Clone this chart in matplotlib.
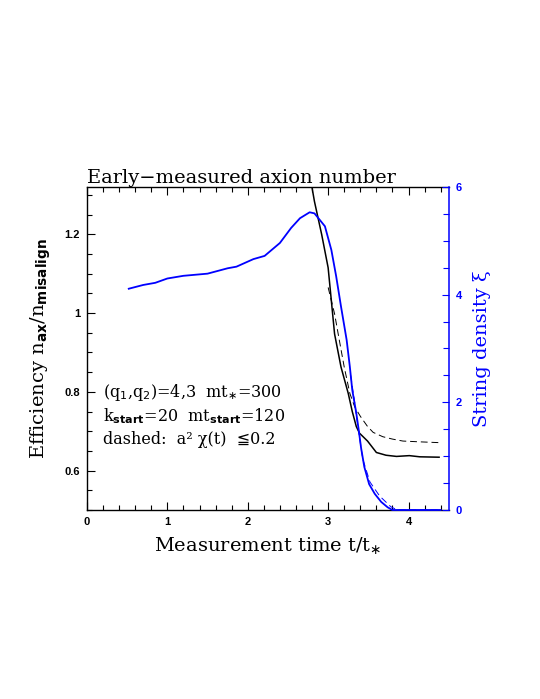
import matplotlib
matplotlib.use("Agg")
import matplotlib.pyplot as plt
from matplotlib.ticker import MultipleLocator, FixedLocator

BLUE = "#0000ff"
INK = "black"
SERIF = ["DejaVu Serif", "DejaVu Sans", "Noto Sans CJK JP"]
TICKFONT = dict(family="Liberation Sans", weight="bold", size=8)

# --- efficiency n_ax/n_misalign (left axis) ---
t_eff = [2.74, 2.80, 2.83, 2.92, 3.00, 3.04, 3.08, 3.16, 3.25, 3.30, 3.35,
         3.39, 3.49, 3.60, 3.72, 3.85, 4.01, 4.14, 4.38]
eff = [1.43, 1.318, 1.283, 1.199, 1.115, 1.031, 0.947, 0.863, 0.796, 0.750,
       0.712, 0.695, 0.675, 0.646, 0.639, 0.636, 0.638, 0.635, 0.634]

t_eff_d = [3.00, 3.08, 3.14, 3.20, 3.27, 3.33, 3.40, 3.49, 3.56, 3.68, 3.80,
           3.93, 4.14, 4.38]
eff_d = [1.065, 0.998, 0.930, 0.863, 0.796, 0.762, 0.738, 0.712, 0.697, 0.686,
         0.680, 0.675, 0.673, 0.671]

# --- string density xi (right axis) ---
t_xi = [0.52, 0.70, 0.85, 1.00, 1.20, 1.50, 1.75, 1.86, 2.07, 2.21, 2.40,
        2.54, 2.65, 2.77, 2.83, 2.96, 3.04, 3.10, 3.16, 3.23, 3.27, 3.30,
        3.35, 3.38, 3.41, 3.45, 3.51, 3.58, 3.66, 3.74, 3.80, 4.40]
xi = [4.11, 4.18, 4.22, 4.30, 4.35, 4.39, 4.49, 4.52, 4.66, 4.72, 4.96,
      5.24, 5.42, 5.53, 5.51, 5.27, 4.83, 4.34, 3.78, 3.16, 2.66, 2.23,
      1.80, 1.49, 1.15, 0.80, 0.48, 0.30, 0.15, 0.05, 0.0, 0.0]

t_xi_d = [3.28, 3.33, 3.37, 3.43, 3.52, 3.64, 3.78, 3.86, 4.40]
xi_d = [2.50, 2.00, 1.55, 0.95, 0.52, 0.26, 0.06, 0.0, 0.0]

x_ticks = [0, 1, 2, 3, 4]
y_ticks = [0.6, 0.8, 1.0, 1.2]
y_ticklabels = ["0.6", "0.8", "1", "1.2"]
xi_ticks = [0, 2, 4, 6]

fig = plt.figure(figsize=(5.4, 6.99), dpi=100)
ax = fig.add_axes([0.161, 0.2704, 0.670, 0.4621])
ax2 = ax.twinx()

ax.plot(t_eff, eff, color=INK, lw=1.1, zorder=3)
ax.plot(t_eff_d, eff_d, color=INK, lw=0.7, dashes=(7, 4), zorder=3)
ax2.plot(t_xi, xi, color=BLUE, lw=1.3, clip_on=False, zorder=3)
ax2.plot(t_xi_d, xi_d, color=BLUE, lw=0.7, dashes=(7, 4), clip_on=False, zorder=3)

ax.set_xlim(0, 4.5)
ax.set_ylim(0.5, 1.32)
ax2.set_ylim(0, 6)

ax.xaxis.set_major_locator(FixedLocator(x_ticks))
ax.xaxis.set_minor_locator(MultipleLocator(0.2))
ax.yaxis.set_major_locator(FixedLocator(y_ticks))
ax.yaxis.set_minor_locator(MultipleLocator(0.05))
ax.set_xticklabels([str(v) for v in x_ticks], **TICKFONT)
ax.set_yticklabels(y_ticklabels, **TICKFONT)
ax.tick_params(which="both", direction="in", top=True, right=False, color=INK)
ax.tick_params(which="major", length=6, width=0.8, pad=5)
ax.tick_params(which="minor", length=3.5, width=0.8)

ax2.yaxis.set_major_locator(FixedLocator(xi_ticks))
ax2.yaxis.set_minor_locator(MultipleLocator(0.5))
ax2.set_yticklabels([str(v) for v in xi_ticks], color=BLUE, **TICKFONT)
ax2.tick_params(which="both", direction="in", colors=BLUE, width=0.8)
ax2.tick_params(which="major", length=5, pad=5)
ax2.tick_params(which="minor", length=4.5)
ax2.spines["right"].set_color(BLUE)
ax2.spines["right"].set_linewidth(1.1)
for s in ("left", "top", "bottom"):
    ax2.spines[s].set_visible(False)
for s in ("left", "top", "bottom"):
    ax.spines[s].set_linewidth(1.0)
ax.spines["right"].set_visible(False)

ax.set_title("Early\u2212measured axion number", family=SERIF, fontsize=14,
             loc="left", pad=3)
ax.set_xlabel("Measurement time t/t$_{\\ast}$", family=SERIF, fontsize=14,
              labelpad=6)
ax.set_ylabel("Efficiency n$_{\\mathbf{ax}}$/n$_{\\mathbf{misalign}}$",
              family=SERIF, fontsize=14, labelpad=8)
ax2.set_ylabel("String density \u03be", family=SERIF, fontsize=14,
               color=BLUE, labelpad=8)

# third line kept free of mathtext so the font fallback can find the ≦ glyph
notes = ["(q$_1$,q$_2$)=4,3  mt$_{\\ast}$=300",
         "k$_{\\mathbf{start}}$=20  mt$_{\\mathbf{start}}$=120",
         "dashed:  a\u00b2 \u03c7(t)  \u22660.2"]
for i, s in enumerate(notes):
    ax.text(0.045, 0.365 - i * 0.073, s, transform=ax.transAxes,
            family=SERIF, fontsize=11.5, va="center")

fig.savefig("out.png", dpi=100, facecolor="white")
